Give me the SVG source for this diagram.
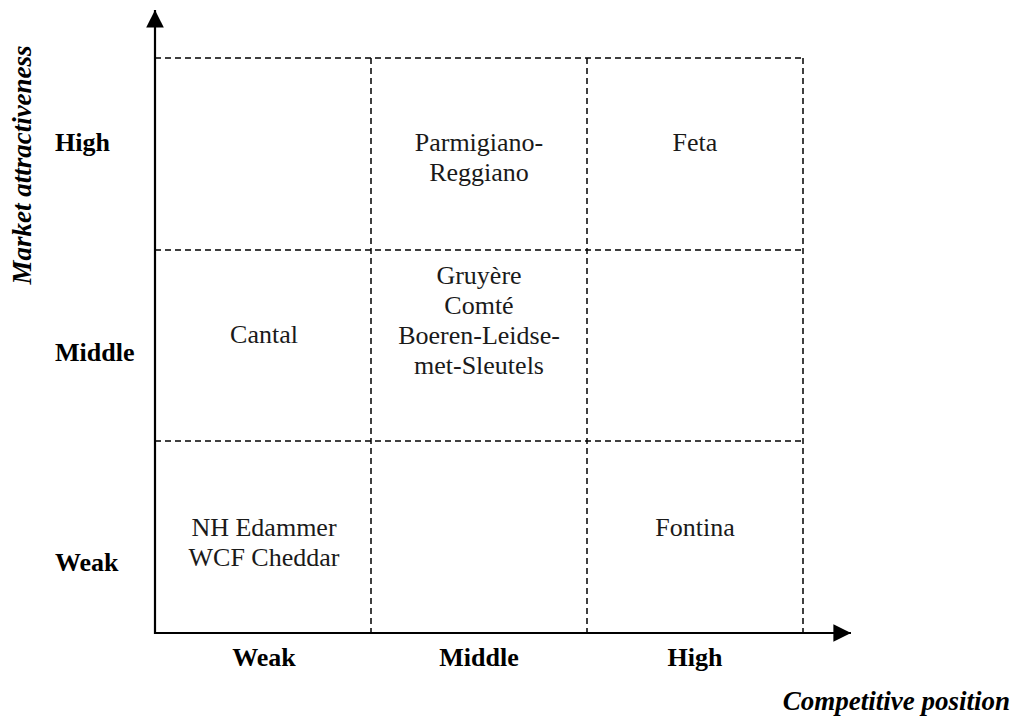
<svg xmlns="http://www.w3.org/2000/svg" width="1018" height="719" viewBox="0 0 1018 719">
<style>
.grid{stroke:#000;stroke-width:1.5;stroke-dasharray:6 4;fill:none}
.axis{stroke:#000;stroke-width:2.2;fill:none}
.t{font-family:"Liberation Serif",serif;font-size:26px;fill:#1a1a1a;text-anchor:middle}
.b{font-family:"Liberation Serif",serif;font-size:26px;font-weight:bold;fill:#000}
.bi{font-family:"Liberation Serif",serif;font-size:27px;font-weight:bold;font-style:italic;fill:#000}
</style>
<defs>
<marker id="ah" viewBox="0 0 10 10" refX="10" refY="5" markerWidth="8" markerHeight="8" markerUnits="strokeWidth" orient="auto">
<path d="M0,0 L10,5 L0,10 Z" fill="#000"/>
</marker>
</defs>
<g id="grid">
<line class="grid" x1="155" y1="58" x2="803" y2="58"/>
<line class="grid" x1="155" y1="250" x2="803" y2="250"/>
<line class="grid" x1="155" y1="441" x2="803" y2="441"/>
<line class="grid" x1="371" y1="58" x2="371" y2="633"/>
<line class="grid" x1="587" y1="58" x2="587" y2="633"/>
<line class="grid" x1="803" y1="58" x2="803" y2="633"/>
</g>
<g id="connectors">
<line class="axis" x1="155" y1="634" x2="155" y2="10" marker-end="url(#ah)"/>
<line class="axis" x1="154" y1="633" x2="851" y2="633" marker-end="url(#ah)"/>
</g>
<g id="y-labels">
<text class="b" x="55" y="151">High</text>
<text class="b" x="55" y="361">Middle</text>
<text class="b" x="55" y="571">Weak</text>
<text class="bi" transform="translate(31,165) rotate(-90)" text-anchor="middle">Market attractiveness</text>
</g>
<g id="x-labels">
<text class="b" x="264" y="666" text-anchor="middle">Weak</text>
<text class="b" x="479" y="666" text-anchor="middle">Middle</text>
<text class="b" x="695" y="666" text-anchor="middle">High</text>
<text class="bi" x="1010" y="710" text-anchor="end">Competitive position</text>
</g>
<g id="cell-mid-high"><text class="t" x="479" y="151">Parmigiano-</text><text class="t" x="479" y="181">Reggiano</text></g>
<g id="cell-high-high"><text class="t" x="695" y="151">Feta</text></g>
<g id="cell-weak-mid"><text class="t" x="264" y="343">Cantal</text></g>
<g id="cell-mid-mid">
<text class="t" x="479" y="284">Gruyère</text>
<text class="t" x="479" y="314">Comté</text>
<text class="t" x="479" y="344">Boeren-Leidse-</text>
<text class="t" x="479" y="374">met-Sleutels</text>
</g>
<g id="cell-weak-weak"><text class="t" x="264" y="536">NH Edammer</text><text class="t" x="264" y="566">WCF Cheddar</text></g>
<g id="cell-high-weak"><text class="t" x="695" y="536">Fontina</text></g>
</svg>
